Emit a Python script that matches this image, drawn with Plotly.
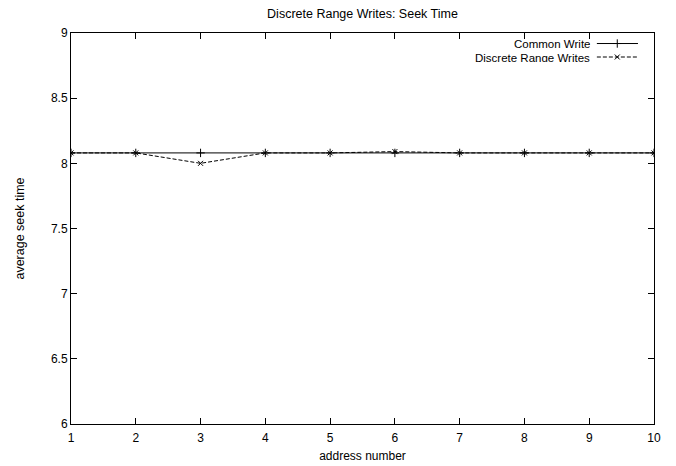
import plotly.graph_objects as go

address = [1, 2, 3, 4, 5, 6, 7, 8, 9, 10]
common_write = [8.08, 8.08, 8.08, 8.08, 8.08, 8.08, 8.08, 8.08, 8.08, 8.08]
discrete_range = [8.08, 8.08, 8.00, 8.08, 8.08, 8.09, 8.08, 8.08, 8.08, 8.08]
x_ticks = [1, 2, 3, 4, 5, 6, 7, 8, 9, 10]
y_ticks = [6, 6.5, 7, 7.5, 8, 8.5, 9]
y_tick_labels = ["6", "6.5", "7", "7.5", "8", "8.5", "9"]

FONT = "Liberation Sans, Arial, Helvetica, sans-serif"
DASH = "4px,2px"

fig = go.Figure()
fig.add_trace(go.Scatter(
    x=address, y=common_write, mode="lines+markers", name="Common Write",
    line=dict(color="black", width=1),
    marker=dict(symbol="cross-thin", size=6, line=dict(color="black", width=1)),
    showlegend=False,
))
fig.add_trace(go.Scatter(
    x=address, y=discrete_range, mode="lines+markers", name="Discrete Range Writes",
    line=dict(color="black", width=1, dash=DASH),
    marker=dict(symbol="x-thin", size=5, line=dict(color="black", width=1)),
    showlegend=False,
))

# legend samples drawn on an invisible overlay axis (gnuplot style: sample right of text)
legend_names = ["Common Write", "Discrete Range Writes"]
legend_y = [0.9731, 0.9386]
legend_styles = [("solid", "cross-thin", 6), (DASH, "x-thin", 5)]
for name, yy, (dash, sym, sz) in zip(legend_names, legend_y, legend_styles):
    fig.add_trace(go.Scatter(
        x=[0.902, 0.9725], y=[yy, yy], mode="lines", xaxis="x2", yaxis="y2",
        line=dict(color="black", width=1, dash=dash), showlegend=False, hoverinfo="skip",
    ))
    fig.add_trace(go.Scatter(
        x=[0.937], y=[yy], mode="markers", xaxis="x2", yaxis="y2",
        marker=dict(symbol=sym, size=sz, line=dict(color="black", width=1)),
        showlegend=False, hoverinfo="skip",
    ))
    fig.add_annotation(
        x=0.892, y=yy, xref="paper", yref="paper", text=name, showarrow=False,
        xanchor="right", yanchor="middle", height=9, borderpad=0,
        font=dict(family=FONT, size=11.5, color="black"),
    )

fig.update_layout(
    width=676, height=466,
    margin=dict(l=71, r=22, t=33, b=42),
    paper_bgcolor="white", plot_bgcolor="white",
    font=dict(family=FONT, size=12, color="black"),
    title=dict(text="Discrete Range Writes: Seek Time", x=0.5, xref="paper",
               y=1 - 14 / 466, yanchor="middle", font=dict(family=FONT, size=12.5)),
    xaxis=dict(
        range=[1, 10], tickvals=x_ticks, ticks="inside", ticklen=6, tickcolor="black",
        showgrid=False, zeroline=False, showline=True, linecolor="black", linewidth=1,
        mirror="ticks", automargin=False, ticklabelstandoff=3,
        title=dict(text="address number", standoff=7, font=dict(family=FONT, size=12)),
        tickfont=dict(family=FONT, size=12),
    ),
    yaxis=dict(
        range=[6, 9], tickvals=y_ticks, ticktext=y_tick_labels, ticks="inside", ticklen=6,
        tickcolor="black", showgrid=False, zeroline=False, showline=True, linecolor="black",
        linewidth=1, mirror="ticks", automargin=False,
        title=dict(text="average seek time", standoff=23, font=dict(family=FONT, size=12.5)),
        tickfont=dict(family=FONT, size=12),
    ),
    xaxis2=dict(range=[0, 1], overlaying="x", visible=False, fixedrange=True),
    yaxis2=dict(range=[0, 1], overlaying="y", visible=False, fixedrange=True),
)

fig.write_html("out.html")
